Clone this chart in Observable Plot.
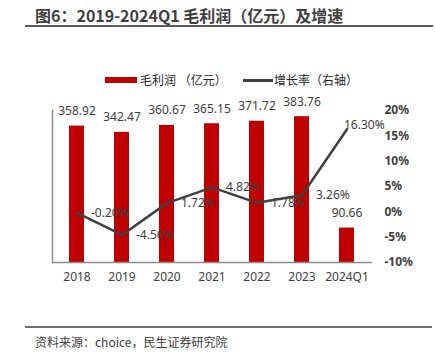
<!DOCTYPE html>
<html><head><meta charset="utf-8">
<script src="https://cdn.jsdelivr.net/npm/d3@7"></script>
<script src="https://cdn.jsdelivr.net/npm/@observablehq/plot@0.6"></script>
<style>
body{margin:0;background:#fff;font-family:"Noto Sans","Noto Sans CJK SC",sans-serif;}
#wrap{position:relative;width:435px;height:364px;overflow:hidden;background:#fff;}
.abs{position:absolute;white-space:nowrap;}
#title{left:35px;top:4px;font-size:16px;font-weight:bold;color:#404040;line-height:22px;font-family:"Noto Sans CJK SC",sans-serif;}
#tline{left:25px;top:25px;width:408px;height:2px;background:#595959;}
#sline{left:25px;top:326px;width:407px;height:2px;background:#6e6e6e;}
#source{left:35px;top:333px;font-size:12px;color:#404040;line-height:18px;font-family:"Noto Sans CJK SC",sans-serif;}
.legtext{font-size:12px;color:#262626;line-height:18px;top:71px;font-family:"Noto Sans CJK SC",sans-serif;}
#sw1{left:105px;top:77px;width:32px;height:6px;background:#C00000;}
#sw2{left:243px;top:79px;width:30px;height:2.5px;background:#404040;}
svg{position:absolute;left:0;top:0;}
</style>
</head><body>
<div id="wrap">
  <div id="title" class="abs">图6：2019-2024Q1 毛利润（亿元）及增速</div>
  <div id="tline" class="abs"></div>
  <div id="sw1" class="abs"></div>
  <div class="abs legtext" style="left:140px;">毛利润 （亿元）</div>
  <div id="sw2" class="abs"></div>
  <div class="abs legtext" style="left:274px;">增长率（右轴）</div>
  <div id="sline" class="abs"></div>
  <div id="source" class="abs">资料来源：choice，民生证券研究院</div>
</div>
<script>
const years = ["2018","2019","2020","2021","2022","2023","2024Q1"];
const profit = [358.92,342.47,360.67,365.15,371.72,383.76,90.66];
const growth = [-0.20,-4.56,1.72,4.82,1.78,3.26,16.30];
const growthTicks = [-10,-5,0,5,10,15,20];

const barData = years.map((year,i)=>({year, profit: profit[i]}));
const lineData = years.map((year,i)=>({year, growth: growth[i]}));

const font = '"Noto Sans","Noto Sans CJK SC",sans-serif';
const common = {
  width:435, height:364, marginLeft:52, marginRight:63, marginTop:110, marginBottom:102,
  style:{fontFamily:font, background:"transparent", overflow:"visible"}
};
const xOpts = {domain: years, type:"band", paddingInner:0.66, paddingOuter:0.33, align:0.5};

const bars = Plot.plot({
  ...common,
  x:{...xOpts},
  y:{domain:[0,400], axis:null},
  marks:[
    Plot.barY(barData,{x:"year",y:"profit",fill:"#C00000"}),
    Plot.text(barData,{x:"year",y:"profit",text:d=>d.profit.toFixed(2),dy:-15,fill:"#404040",fontSize:12}),
    Plot.frame({anchor:"left",stroke:"#8c8c8c",strokeWidth:1.5}),
    Plot.ruleY([0],{stroke:"#8c8c8c",strokeWidth:1.5}),
    Plot.axisX({tickSize:0,tickPadding:10,fontSize:12,fill:"#404040",label:null})
  ]
});

const lines = Plot.plot({
  ...common,
  x:{...xOpts, axis:null},
  y:{domain:[-10,20]},
  marks:[
    Plot.line(lineData,{x:"year",y:"growth",stroke:"#404040",strokeWidth:2.5,strokeLinejoin:"miter"}),
    Plot.text(lineData.slice(0,6),{x:"year",y:"growth",text:d=>d.growth.toFixed(2)+"%",textAnchor:"start",dx:14,fill:"#404040",fontSize:12}),
    Plot.text(lineData.slice(6),{x:"year",y:"growth",text:d=>d.growth.toFixed(2)+"%",textAnchor:"start",dx:-3,dy:-4,fill:"#404040",fontSize:12}),
    Plot.axisY(growthTicks,{anchor:"right",tickSize:0,tickPadding:12,tickFormat:d=>d+"%",fontSize:12,fontWeight:"bold",fill:"#404040",label:null})
  ]
});

const wrap = document.getElementById("wrap");
wrap.appendChild(bars);
wrap.appendChild(lines);
</script>
</body></html>
